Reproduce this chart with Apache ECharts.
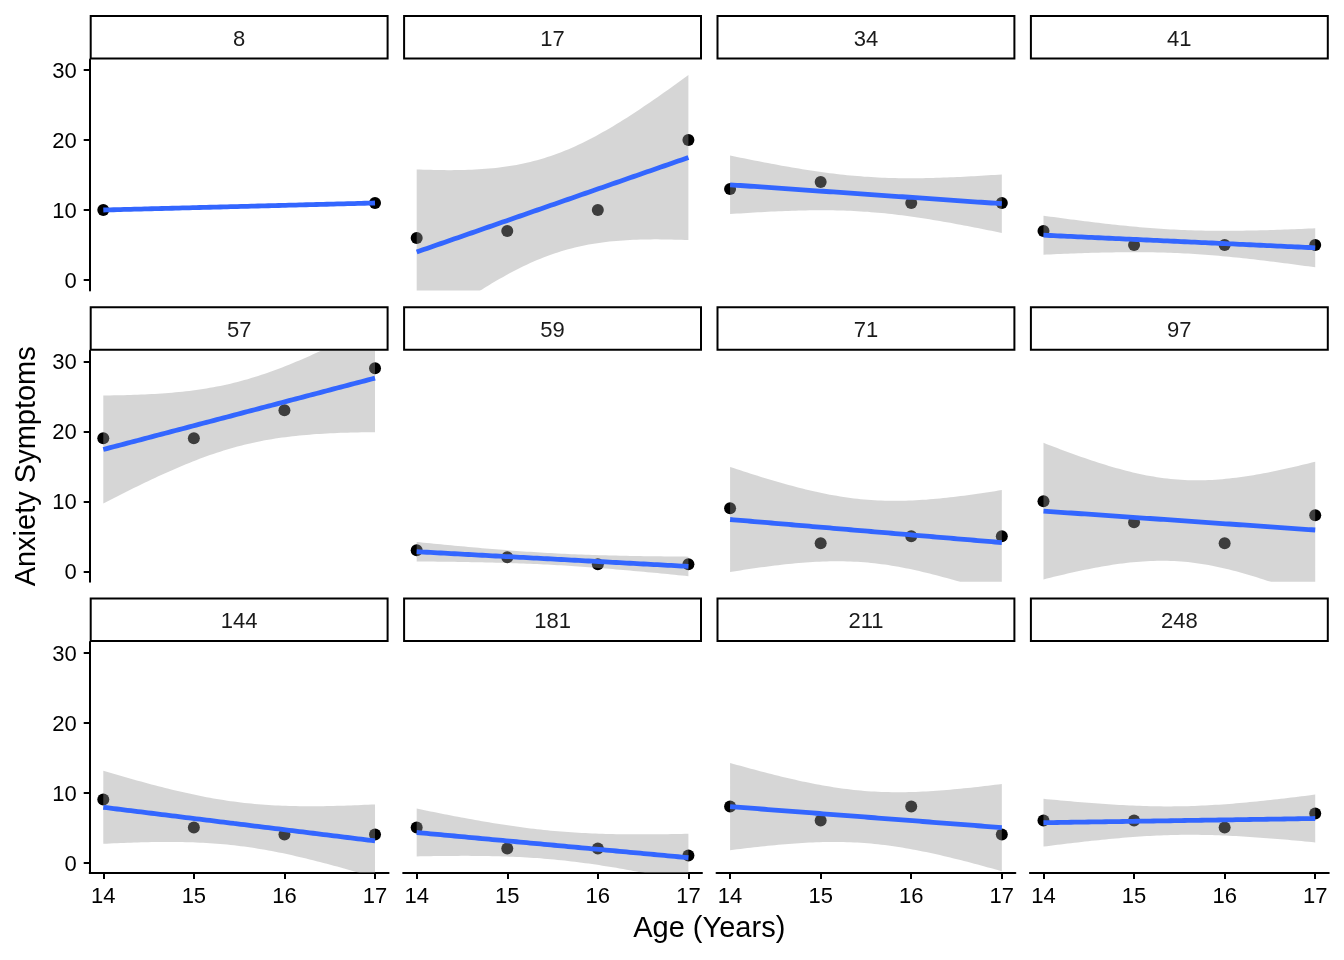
<!DOCTYPE html>
<html>
<head>
<meta charset="utf-8">
<script src="https://cdn.jsdelivr.net/npm/echarts@6/dist/echarts.min.js"></script>
<style>html,body{margin:0;padding:0;background:#fff}#c{width:1344px;height:960px}</style>
</head>
<body>
<div id="c"></div>
<script>
// ---- data ----
const panelIds = ['8', '17', '34', '41', '57', '59', '71', '97', '144', '181', '211', '248'];
const xTicks = [14, 15, 16, 17];
const yTicks = [0, 10, 20, 30];
const age_8 = [14, 17];
const age_all = [14, 15, 16, 17];
const anx_8 = [10, 11];
const anx_17 = [6, 7, 10, 20];
const anx_34 = [13, 14, 11, 11];
const anx_41 = [7, 5, 5, 5];
const anx_57 = [19, 19, 23, 29];
const anx_59 = [3, 2, 1, 1];
const anx_71 = [9, 4, 5, 5];
const anx_97 = [10, 7, 4, 8];
const anx_144 = [9, 5, 4, 4];
const anx_181 = [5, 2, 2, 1];
const anx_211 = [8, 6, 8, 4];
const anx_248 = [6, 6, 5, 7];
const panelAges = [age_8, age_all, age_all, age_all, age_all, age_all, age_all, age_all, age_all, age_all, age_all, age_all];
const panelAnx = [anx_8, anx_17, anx_34, anx_41, anx_57, anx_59, anx_71, anx_97, anx_144, anx_181, anx_211, anx_248];

// ---- linear model with 95% confidence band (like geom_smooth(method = "lm")) ----
const T975 = {1: 12.7062, 2: 4.302653, 3: 3.182446, 4: 2.776445};
function lmFit(xs, ys) {
  const n = xs.length;
  const mx = xs.reduce((a, b) => a + b, 0) / n;
  const my = ys.reduce((a, b) => a + b, 0) / n;
  let sxx = 0, sxy = 0;
  for (let i = 0; i < n; i++) { sxx += (xs[i] - mx) ** 2; sxy += (xs[i] - mx) * (ys[i] - my); }
  const b = sxy / sxx, a = my - b * mx;
  const df = n - 2;
  let s = null;
  if (df > 0) {
    let sse = 0;
    for (let i = 0; i < n; i++) sse += (ys[i] - (a + b * xs[i])) ** 2;
    s = Math.sqrt(sse / df);
  }
  const x0 = Math.min(...xs), x1 = Math.max(...xs);
  const line = [], upper = [], lower = [];
  const N = 80;
  for (let i = 0; i < N; i++) {
    const x = x0 + (x1 - x0) * i / (N - 1);
    const y = a + b * x;
    line.push([x, y]);
    if (s !== null) {
      const se = s * Math.sqrt(1 / n + (x - mx) ** 2 / sxx);
      const t = T975[df];
      upper.push([x, y + t * se]);
      lower.push([x, y - t * se]);
    }
  }
  return {line, upper, lower};
}

// ---- layout ----
const colLeft0 = 89.7, colStride = 313.4, panelW = 298.9;
const rowTop0 = 59.5, rowStride = 291.3, panelH = 231;
const FONT = '"Liberation Sans", Arial, Helvetica, sans-serif';

const grids = [], xAxes = [], yAxes = [], series = [], graphics = [];

panelIds.forEach((id, k) => {
  const r = Math.floor(k / 4), c = k % 4;
  const left = colLeft0 + c * colStride;
  const top = rowTop0 + r * rowStride;
  grids.push({left: left, top: top, width: panelW, height: panelH, containLabel: false});
  const showX = r === 2, showY = c === 0;
  xAxes.push({
    type: 'value', gridIndex: k, min: 13.85, max: 17.15,
    show: showX,
    axisLine: {show: showX, onZero: false, lineStyle: {color: '#000', width: 2}},
    axisTick: {show: showX, length: 6, lineStyle: {color: '#000', width: 2}, customValues: xTicks},
    axisLabel: {show: showX, customValues: xTicks, margin: 13, color: '#000', fontSize: 22, fontFamily: FONT},
    splitLine: {show: false}
  });
  yAxes.push({
    type: 'value', gridIndex: k, min: -1.5, max: 31.5,
    show: showY,
    axisLine: {show: showY, onZero: false, lineStyle: {color: '#000', width: 2}},
    axisTick: {show: showY, length: 6, lineStyle: {color: '#000', width: 2}, customValues: yTicks},
    axisLabel: {
      show: showY, customValues: yTicks, margin: 13, color: '#000', fontSize: 22, fontFamily: FONT,
      formatter: '{a|{value}}',
      rich: {a: {padding: [4, 0, 0, 0], color: '#000', fontSize: 22, fontFamily: FONT}}
    },
    splitLine: {show: false}
  });

  const xs = panelAges[k], ys = panelAnx[k];
  const fit = lmFit(xs, ys);

  series.push({
    type: 'scatter', xAxisIndex: k, yAxisIndex: k, z: 2, silent: true,
    symbolSize: 12, itemStyle: {color: '#000', opacity: 1},
    data: xs.map((x, i) => [x, ys[i]])
  });
  if (fit.upper.length) {
    const up = fit.upper, lo = fit.lower;
    series.push({
      type: 'custom', xAxisIndex: k, yAxisIndex: k, z: 3, silent: true, clip: true,
      data: [[15.5, 10]],
      renderItem: function (params, api) {
        const pts = up.map(p => api.coord(p)).concat(lo.slice().reverse().map(p => api.coord(p)));
        return {type: 'polygon', shape: {points: pts}, style: {fill: 'rgba(153,153,153,0.4)'}};
      }
    });
  }
  series.push({
    type: 'line', xAxisIndex: k, yAxisIndex: k, z: 4, silent: true, clip: true,
    showSymbol: false, symbol: 'none',
    lineStyle: {color: '#3366FF', width: 4.8},
    data: fit.line
  });

  // strip
  graphics.push({
    type: 'rect', silent: true, z: 10,
    shape: {x: left + 1, y: top - 43.5, width: panelW - 2, height: 42.5},
    style: {fill: '#fff', stroke: '#000', lineWidth: 2}
  });
  graphics.push({
    type: 'text', silent: true, z: 11,
    x: left + panelW / 2, y: top - 20,
    style: {text: id, align: 'center', verticalAlign: 'middle', fill: '#1a1a1a', fontSize: 22, fontFamily: FONT}
  });
});

graphics.push({
  type: 'text', silent: true, z: 11,
  x: (colLeft0 + colLeft0 + 3 * colStride + panelW) / 2, y: 929,
  style: {text: 'Age (Years)', align: 'center', verticalAlign: 'middle', fill: '#000', fontSize: 29, fontFamily: FONT}
});
graphics.push({
  type: 'text', silent: true, z: 11,
  x: 27, y: (rowTop0 + rowTop0 + 2 * rowStride + panelH) / 2,
  rotation: Math.PI / 2,
  style: {text: 'Anxiety Symptoms', align: 'center', verticalAlign: 'middle', fill: '#000', fontSize: 29, fontFamily: FONT}
});

const chart = echarts.init(document.getElementById('c'), null, {renderer: 'canvas'});
chart.setOption({
  animation: false,
  backgroundColor: '#fff',
  grid: grids,
  xAxis: xAxes,
  yAxis: yAxes,
  series: series,
  graphic: graphics
});
</script>
</body>
</html>
